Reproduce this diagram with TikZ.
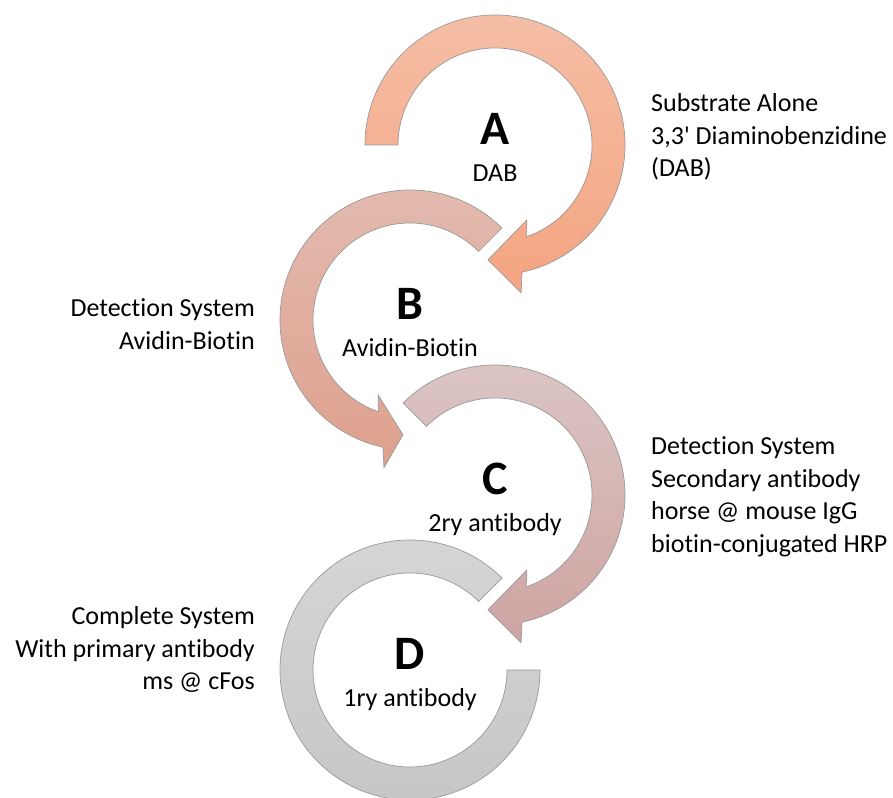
\documentclass[tikz,border=0pt]{standalone}
\usepackage{fontspec}
\setmainfont{Carlito}[Ligatures=NoCommon]

\begin{document}
\begin{tikzpicture}[x=1pt,y=1pt,
  ring/.style={draw=black!40,line width=0.7pt},
  letter/.style={font=\fontsize{48}{48}\selectfont\bfseries,anchor=base,inner sep=0pt},
  caption/.style={font=\fontsize{26}{26}\selectfont,anchor=base,inner sep=0pt},
  note/.style={font=\fontsize{26}{32.5}\selectfont,inner sep=0pt}]
\pgfmathsetmacro\ro{130}   % outer radius
\pgfmathsetmacro\ri{97}    % inner radius
\pgfmathsetmacro\rw{150}   % outer wing
\pgfmathsetmacro\rv{81.5}  % inner wing
\pgfmathsetmacro\rt{115}   % tip

\useasboundingbox (0,0) rectangle (893,797);

% A: clockwise from the left
\begin{scope}[shift={(495,652)}]
\shade[ring,top color={rgb,255:red,245;green,190;blue,166},bottom color={rgb,255:red,244;green,164;blue,128}]
  (180:\ro) arc[start angle=180,end angle=-78,radius=\ro]
  -- (-80:\rw) -- (-93.5:\rt) -- (-67:\rv) -- (-71:\ri)
  arc[start angle=-71,end angle=180,radius=\ri] -- cycle;
\end{scope}

% B: counterclockwise from the upper right
\begin{scope}[shift={(410,477)}]
\shade[ring,top color={rgb,255:red,227;green,187;blue,176},bottom color={rgb,255:red,222;green,160;blue,141}]
  (45:\ro) arc[start angle=45,end angle=258,radius=\ro]
  -- (260:\rw) -- (266.5:\rt) -- (247:\rv) -- (251:\ri)
  arc[start angle=251,end angle=45,radius=\ri] -- cycle;
\end{scope}

% C: clockwise from the upper left
\begin{scope}[shift={(495,302)}]
\shade[ring,top color={rgb,255:red,219;green,198;blue,197},bottom color={rgb,255:red,206;green,164;blue,161}]
  (135:\ro) arc[start angle=135,end angle=-78,radius=\ro]
  -- (-80:\rw) -- (-93.5:\rt) -- (-67:\rv) -- (-71:\ri)
  arc[start angle=-71,end angle=135,radius=\ri] -- cycle;
\end{scope}

% D: plain ring, no head
\begin{scope}[shift={(410,127)}]
\shade[ring,top color={rgb,255:red,214;green,214;blue,214},bottom color={rgb,255:red,198;green,198;blue,198}]
  (45:\ro) arc[start angle=45,end angle=360,radius=\ro]
  -- (360:\ri) arc[start angle=360,end angle=45,radius=\ri] -- cycle;
\end{scope}

\node[letter] (lblA) at (495,652) {A};
\node[caption] (capA) at (495,615) {DAB};
\node[letter] (lblB) at (410,477) {B};
\node[caption] (capB) at (410,440) {Avidin-Biotin};
\node[letter] (lblC) at (495,302) {C};
\node[caption] (capC) at (495,265) {2ry antibody};
\node[letter] (lblD) at (410,127) {D};
\node[caption] (capD) at (410,90) {1ry antibody};

% base = last line
\node[note,align=left,anchor=base west] (noteA) at (651,620)
  {Substrate Alone\\3,3\textquotesingle{} Diaminobenzidine\\(DAB)};
\node[note,align=right,anchor=base east] (noteB) at (255,447.5)
  {Detection System\\Avidin-Biotin};
\node[note,align=left,anchor=base west] (noteC) at (651,244.5)
  {Detection System\\Secondary antibody\\horse @ mouse IgG\\biotin-conjugated HRP};
\node[note,align=right,anchor=base east] (noteD) at (255,107)
  {Complete System\\With primary antibody\\ms @ cFos};
\end{tikzpicture}
\end{document}
